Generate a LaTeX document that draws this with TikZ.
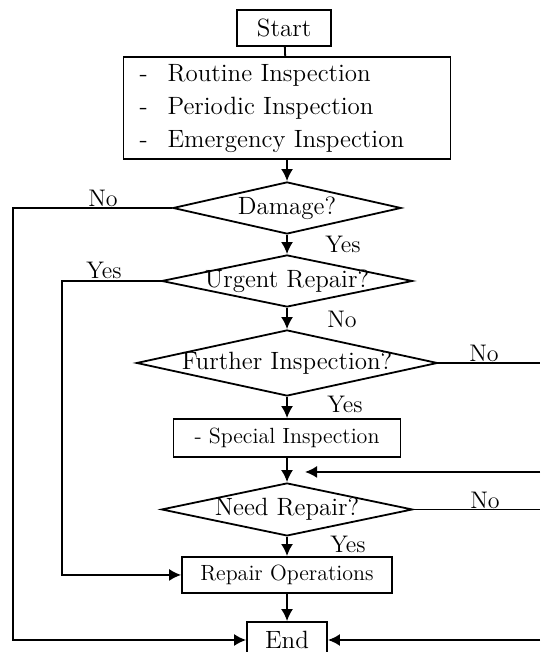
\documentclass[tikz,border=0pt]{standalone}
\usepackage{amsmath}
\usepackage{xcolor}
\usepackage{tikz}
\usetikzlibrary{positioning,calc,shapes.geometric,arrows.meta}

\begin{document}
\begin{tikzpicture}[
                font=\fontsize{12.5}{16.5}\selectfont,
                % Node styles
                stepbox/.style={rectangle, draw=black, line width=0.9pt, inner sep=0pt},
                smallbox/.style={stepbox, font=\fontsize{11}{13}\selectfont},
                decision/.style={diamond, draw=black, line width=0.9pt, inner sep=0pt},
                % Edge styles
                edge/.style={draw=black, line width=0.9pt},
                arrowedge/.style={-{Latex[length=6pt,width=6pt]}, draw=black, line width=0.9pt},
                % Yes/No labels
                ynlabel/.style={font=\fontsize{12}{14}\selectfont, inner sep=0pt}
            ]
                % --- FRAME ---
                \useasboundingbox (-5.044,0.492) rectangle (4.446,-10.966);
                \clip (-5.044,0.492) rectangle (4.446,-10.966);

                % --- BOXES ---
                \node[stepbox, minimum width=1.652cm, minimum height=0.633cm] (start) at (-0.05, 0) {Start};
                \node[stepbox, inner xsep=8pt, text width=5.746cm-16pt, minimum height=1.792cm, align=left] (insp) at (0, -1.41)
                    {\makebox[14pt][l]{-}Routine Inspection\\ \makebox[14pt][l]{-}Periodic Inspection\\ \makebox[14pt][l]{-}Emergency Inspection};

                % Decisions
                \node[decision, minimum width=4.01cm, minimum height=0.914cm, label=center:Damage?] (damage) at (0, -3.163) {};
                \node[decision, minimum width=4.41cm, minimum height=0.914cm, label=center:Urgent Repair?] (urgent) at (0, -4.446) {};
                \node[decision, minimum width=5.29cm, minimum height=1.16cm, label=center:Further Inspection?] (further) at (0, -5.887) {};

                \node[smallbox, minimum width=3.99cm, minimum height=0.668cm] (special) at (0, -7.205) {- Special Inspection};
                \node[decision, minimum width=4.41cm, minimum height=0.93cm, label=center:Need Repair?] (need) at (0, -8.461) {};
                \node[smallbox, minimum width=3.69cm, minimum height=0.633cm] (repair) at (0, -9.612) {Repair Operations};
                \node[stepbox, minimum width=1.406cm, minimum height=0.633cm] (end) at (0, -10.755) {End};

                % Corners and free ends
                \coordinate (nocorner) at (-4.815, -10.755);
                \coordinate (yescorner) at (-3.954, -9.612);
                \coordinate (furtherout) at (4.446, -5.887);
                \coordinate (backin) at (4.446, -7.802);
                \coordinate (backtip) at (0.316, -7.802);
                \coordinate (needout) at (4.446, -8.461);
                \coordinate (endin) at (4.446, -10.755);

                % --- EDGES ---
                \draw[edge] (start) -- (insp);
                \draw[arrowedge] (insp) -- (damage);
                \draw[arrowedge] (damage) -- (urgent);
                \draw[arrowedge] (urgent) -- (further);
                \draw[arrowedge] (further) -- (special);
                \draw[arrowedge] (special) -- (need);
                \draw[arrowedge] (need) -- (repair);
                \draw[arrowedge] (repair) -- (end);

                % Side branches
                \draw[arrowedge] (damage.west) -| (nocorner) -- (end.west);
                \draw[arrowedge] (urgent.west) -| (yescorner) -- (repair.west);
                \draw[edge] (further.east) -- (furtherout);
                \draw[arrowedge] (backin) -- (backtip);
                \draw[edge] (need.east) -- (needout);
                \draw[arrowedge] (endin) -- (end.east);

                % --- LABELS ---
                \node[ynlabel] (lno1) at (-3.233, -2.987) {No};
                \node[ynlabel] (lyes1) at (0.984, -3.796) {Yes};
                \node[ynlabel] (lyes2) at (-3.216, -4.253) {Yes};
                \node[ynlabel] (lno2) at (0.967, -5.114) {No};
                \node[ynlabel] (lno3) at (3.462, -5.711) {No};
                \node[ynlabel] (lyes3) at (1.019, -6.607) {Yes};
                \node[ynlabel] (lno4) at (3.479, -8.294) {No};
                \node[ynlabel] (lyes4) at (1.072, -9.068) {Yes};

            \end{tikzpicture}
\end{document}
